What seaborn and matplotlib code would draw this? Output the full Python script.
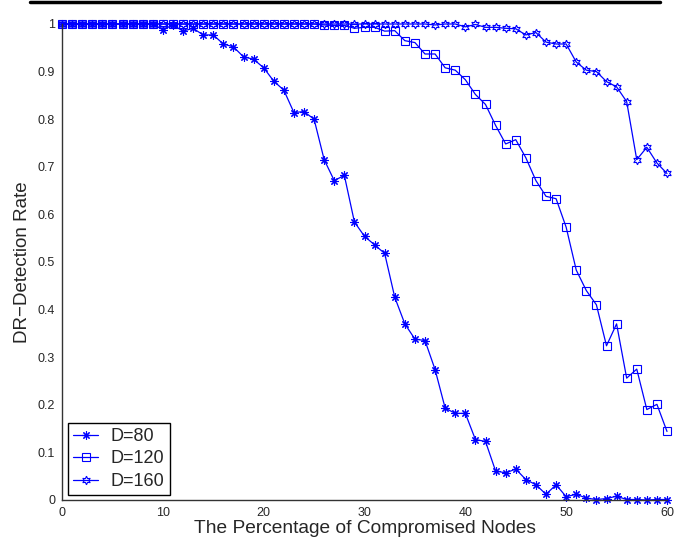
import numpy as np
import pandas as pd
import matplotlib
matplotlib.use("Agg")
import matplotlib.pyplot as plt
from matplotlib.lines import Line2D
from matplotlib.ticker import FuncFormatter, MultipleLocator
import seaborn as sns

# percentage of compromised nodes
pct = list(range(0, 61))

d80 = [1.0, 1.0, 1.0, 1.0, 1.0, 1.0, 1.0, 1.0, 1.0, 1.0,
       0.988, 0.998, 0.985, 0.991, 0.977, 0.977, 0.958, 0.952, 0.931, 0.926,
       0.908, 0.880, 0.861, 0.814, 0.816, 0.800, 0.715, 0.671, 0.682, 0.584,
       0.554, 0.536, 0.518, 0.426, 0.370, 0.338, 0.335, 0.274, 0.193, 0.182,
       0.182, 0.127, 0.123, 0.061, 0.057, 0.065, 0.043, 0.032, 0.012, 0.032,
       0.007, 0.012, 0.004, 0.001, 0.003, 0.008, 0.001, 0.001, 0.0, 0.001,
       0.001]

d120 = [1.0, 1.0, 1.0, 1.0, 1.0, 1.0, 1.0, 1.0, 1.0, 1.0,
        1.0, 1.0, 1.0, 1.0, 1.0, 1.0, 1.0, 1.0, 1.0, 1.0,
        1.0, 1.0, 1.0, 1.0, 1.0, 1.0, 0.998, 0.997, 0.997, 0.991,
        0.993, 0.993, 0.985, 0.986, 0.965, 0.961, 0.937, 0.937, 0.908, 0.903,
        0.883, 0.852, 0.831, 0.787, 0.748, 0.757, 0.719, 0.671, 0.638, 0.633,
        0.573, 0.483, 0.440, 0.410, 0.324, 0.370, 0.256, 0.275, 0.190, 0.201,
        0.144]

d160 = [1.0, 1.0, 1.0, 1.0, 1.0, 1.0, 1.0, 1.0, 1.0, 1.0,
        1.0, 1.0, 1.0, 1.0, 1.0, 1.0, 1.0, 1.0, 1.0, 1.0,
        1.0, 1.0, 1.0, 1.0, 1.0, 1.0, 1.0, 1.0, 1.0, 1.0,
        1.0, 1.0, 1.0, 1.0, 1.0, 1.0, 1.0, 0.998, 1.0, 1.0,
        0.994, 0.999, 0.993, 0.993, 0.991, 0.990, 0.977, 0.982, 0.962, 0.958,
        0.958, 0.920, 0.903, 0.900, 0.879, 0.868, 0.837, 0.715, 0.741, 0.708,
        0.686]

labels = ["D=80", "D=120", "D=160"]
markers = [(8, 2, 0), "s", (6, 1, 0)]
sizes = [6, 5.2, 6.2]

sns.set_style("white")
plt.rcParams["font.family"] = ["Liberation Sans", "DejaVu Sans"]

fig = plt.figure(figsize=(6.85, 5.44), dpi=100)
ax = fig.add_axes([62 / 685, 1 - 500 / 544, 605 / 685, 476 / 544])

for vals, lab, mk, ms in zip([d80, d120, d160], labels, markers, sizes):
    sns.lineplot(x=pct, y=vals, ax=ax, color="blue", lw=0.9, marker=mk,
                 ms=ms, mfc="none", mec="blue", mew=0.8, label=lab,
                 errorbar=None, clip_on=False)

ax.set_xlim(0, 60)
ax.set_ylim(0, 1)
ax.xaxis.set_major_locator(MultipleLocator(10))
ax.yaxis.set_major_locator(MultipleLocator(0.1))
ax.yaxis.set_major_formatter(FuncFormatter(lambda v, _: f"{v:.1f}".rstrip("0").rstrip(".") if v else "0"))

for s in ["top", "right"]:
    ax.spines[s].set_visible(False)
for s in ["left", "bottom"]:
    ax.spines[s].set_color("#333333")
    ax.spines[s].set_linewidth(1.0)

ax.tick_params(axis="x", direction="in", length=5, width=0.8, labelsize=9, pad=5, color="#333333")
ax.tick_params(axis="y", direction="out", length=3, width=0.8, labelsize=9, pad=2, color="#333333")
ax.set_xlabel("The Percentage of Compromised Nodes", fontsize=13.8, labelpad=1)
ax.set_ylabel("DR\u2212Detection Rate", fontsize=13.5, labelpad=5)

leg = ax.legend(loc="lower left", bbox_to_anchor=(0.01, 0.01), fontsize=13,
                frameon=True, fancybox=False, framealpha=1, edgecolor="black",
                handlelength=1.35, borderpad=0.3, labelspacing=0.3,
                handletextpad=0.7, borderaxespad=0)
leg.get_frame().set_linewidth(1.0)

# rule across the top of the page
fig.add_artist(Line2D([30 / 685, 660 / 685], [1 - 1.5 / 544, 1 - 1.5 / 544],
                      color="black", lw=2.5, transform=fig.transFigure))

fig.savefig("out.png", dpi=100)
